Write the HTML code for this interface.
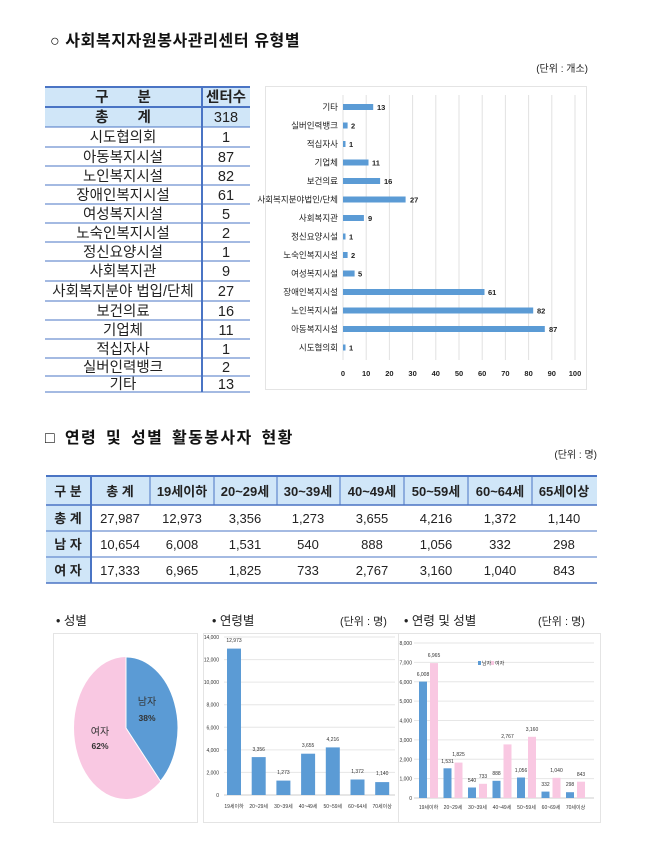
<!DOCTYPE html>
<html><head><meta charset="utf-8"><style>
body{margin:0;background:#fff;}
svg{display:block;font-family:"Liberation Sans","Noto Sans CJK KR",sans-serif;}
</style></head><body>
<svg width="670" height="864" viewBox="0 0 670 864" xmlns="http://www.w3.org/2000/svg">
<text x="50" y="46" font-size="16" font-weight="bold" fill="#111" letter-spacing="0.6">○ 사회복지자원봉사관리센터 유형별</text>
<text x="588" y="72" font-size="10" text-anchor="end" fill="#222">(단위 : 개소)</text>

<rect x="45" y="87" width="205" height="40" fill="#d0e6f8"/>
<g stroke="#4a74c4" stroke-width="1">
<line x1="45" y1="87" x2="250" y2="87" stroke-width="2"/>
<line x1="45" y1="107" x2="250" y2="107" stroke-width="2"/>
<line x1="45" y1="127" x2="250" y2="127"/><line x1="45" y1="147" x2="250" y2="147"/>
<line x1="45" y1="166" x2="250" y2="166"/><line x1="45" y1="185" x2="250" y2="185"/>
<line x1="45" y1="204" x2="250" y2="204"/><line x1="45" y1="223" x2="250" y2="223"/>
<line x1="45" y1="242" x2="250" y2="242"/><line x1="45" y1="261" x2="250" y2="261"/>
<line x1="45" y1="281" x2="250" y2="281"/><line x1="45" y1="301" x2="250" y2="301"/>
<line x1="45" y1="320" x2="250" y2="320"/><line x1="45" y1="339" x2="250" y2="339"/>
<line x1="45" y1="358" x2="250" y2="358"/><line x1="45" y1="376" x2="250" y2="376"/>
<line x1="45" y1="392" x2="250" y2="392"/>
<line x1="202" y1="87" x2="202" y2="392" stroke-width="2"/>
</g>
<g font-size="14.5" text-anchor="middle" fill="#222">
<text x="123" y="102" font-weight="bold">구　　분</text><text x="226" y="102" font-weight="bold">센터수</text>
<text x="123" y="122" font-weight="bold">총　　계</text><text x="226" y="122">318</text>
<text x="123" y="142">시도협의회</text><text x="226" y="142">1</text>
<text x="123" y="162">아동복지시설</text><text x="226" y="162">87</text>
<text x="123" y="181">노인복지시설</text><text x="226" y="181">82</text>
<text x="123" y="200">장애인복지시설</text><text x="226" y="200">61</text>
<text x="123" y="219">여성복지시설</text><text x="226" y="219">5</text>
<text x="123" y="238">노숙인복지시설</text><text x="226" y="238">2</text>
<text x="123" y="257">정신요양시설</text><text x="226" y="257">1</text>
<text x="123" y="276">사회복지관</text><text x="226" y="276">9</text>
<text x="123" y="296">사회복지분야 법입/단체</text><text x="226" y="296">27</text>
<text x="123" y="316">보건의료</text><text x="226" y="316">16</text>
<text x="123" y="335">기업체</text><text x="226" y="335">11</text>
<text x="123" y="354">적십자사</text><text x="226" y="354">1</text>
<text x="123" y="372">실버인력뱅크</text><text x="226" y="372">2</text>
<text x="123" y="389">기타</text><text x="226" y="389">13</text>
</g>

<rect x="265.5" y="86.5" width="321" height="303" fill="#fff" stroke="#e4e4e4"/>
<g stroke="#e2e2e2">
<line x1="343" y1="95" x2="343" y2="360"/><line x1="366.2" y1="95" x2="366.2" y2="360"/>
<line x1="389.4" y1="95" x2="389.4" y2="360"/><line x1="412.6" y1="95" x2="412.6" y2="360"/>
<line x1="435.8" y1="95" x2="435.8" y2="360"/><line x1="459" y1="95" x2="459" y2="360"/>
<line x1="482.2" y1="95" x2="482.2" y2="360"/><line x1="505.4" y1="95" x2="505.4" y2="360"/>
<line x1="528.6" y1="95" x2="528.6" y2="360"/><line x1="551.8" y1="95" x2="551.8" y2="360"/>
<line x1="575" y1="95" x2="575" y2="360"/>
</g>
<g fill="#5b9bd5">
<rect x="343" y="104" width="30.2" height="6"/>
<rect x="343" y="122.5" width="4.6" height="6"/>
<rect x="343" y="141" width="2.5" height="6"/>
<rect x="343" y="159.5" width="25.5" height="6"/>
<rect x="343" y="178" width="37.1" height="6"/>
<rect x="343" y="196.5" width="62.6" height="6"/>
<rect x="343" y="215" width="20.9" height="6"/>
<rect x="343" y="233.5" width="2.5" height="6"/>
<rect x="343" y="252" width="4.6" height="6"/>
<rect x="343" y="270.5" width="11.6" height="6"/>
<rect x="343" y="289" width="141.5" height="6"/>
<rect x="343" y="307.5" width="190.2" height="6"/>
<rect x="343" y="326" width="201.8" height="6"/>
<rect x="343" y="344.5" width="2.5" height="6"/>
</g>
<g font-size="8.5" text-anchor="end" fill="#222">
<text x="338" y="110">기타</text><text x="338" y="128.5">실버인력뱅크</text>
<text x="338" y="147">적십자사</text><text x="338" y="165.5">기업체</text>
<text x="338" y="184">보건의료</text><text x="338" y="202.5">사회복지분야법인/단체</text>
<text x="338" y="221">사회복지관</text><text x="338" y="239.5">정신요양시설</text>
<text x="338" y="258">노숙인복지시설</text><text x="338" y="276.5">여성복지시설</text>
<text x="338" y="295">장애인복지시설</text><text x="338" y="313.5">노인복지시설</text>
<text x="338" y="332">아동복지시설</text><text x="338" y="350.5">시도협의회</text>
</g>
<g font-size="7.5" font-weight="bold" fill="#222">
<text x="377" y="110">13</text><text x="351" y="128.5">2</text><text x="349" y="147">1</text>
<text x="372" y="165.5">11</text><text x="384" y="184">16</text><text x="410" y="202.5">27</text>
<text x="368" y="221">9</text><text x="349" y="239.5">1</text><text x="351" y="258">2</text>
<text x="358" y="276.5">5</text><text x="488" y="295">61</text><text x="537" y="313.5">82</text>
<text x="549" y="332">87</text><text x="349" y="350.5">1</text>
</g>
<g font-size="7.5" font-weight="bold" text-anchor="middle" fill="#222">
<text x="343" y="376">0</text><text x="366.2" y="376">10</text><text x="389.4" y="376">20</text>
<text x="412.6" y="376">30</text><text x="435.8" y="376">40</text><text x="459" y="376">50</text>
<text x="482.2" y="376">60</text><text x="505.4" y="376">70</text><text x="528.6" y="376">80</text>
<text x="551.8" y="376">90</text><text x="575" y="376">100</text>
</g>

<text x="45" y="443" font-size="16" font-weight="bold" fill="#111" letter-spacing="1.4" word-spacing="3">□ 연령 및 성별 활동봉사자 현황</text>
<text x="597" y="458" font-size="10" text-anchor="end" fill="#222">(단위 : 명)</text>

<rect x="46" y="476" width="551" height="29" fill="#d0e6f8"/>
<rect x="46" y="505" width="45" height="78" fill="#d0e6f8"/>
<g stroke="#4a74c4">
<line x1="46" y1="476" x2="597" y2="476" stroke-width="2"/>
<line x1="46" y1="505" x2="597" y2="505" stroke-width="1.5"/>
<line x1="46" y1="531" x2="597" y2="531"/>
<line x1="46" y1="557" x2="597" y2="557"/>
<line x1="46" y1="583" x2="597" y2="583" stroke-width="1.5"/>
<line x1="91" y1="476" x2="91" y2="583" stroke-width="2"/>
<line x1="150" y1="476" x2="150" y2="505"/><line x1="214" y1="476" x2="214" y2="505"/>
<line x1="277" y1="476" x2="277" y2="505"/><line x1="340" y1="476" x2="340" y2="505"/>
<line x1="404" y1="476" x2="404" y2="505"/><line x1="468" y1="476" x2="468" y2="505"/>
<line x1="532" y1="476" x2="532" y2="505"/>
</g>
<g font-size="13" text-anchor="middle" fill="#222">
<text x="68" y="496" font-weight="bold">구 분</text>
<text x="120" y="496" font-weight="bold">총 계</text>
<text x="182" y="496" font-weight="bold">19세이하</text>
<text x="245" y="496" font-weight="bold">20~29세</text>
<text x="308" y="496" font-weight="bold">30~39세</text>
<text x="372" y="496" font-weight="bold">40~49세</text>
<text x="436" y="496" font-weight="bold">50~59세</text>
<text x="500" y="496" font-weight="bold">60~64세</text>
<text x="564" y="496" font-weight="bold">65세이상</text>
<text x="68" y="523" font-weight="bold">총 계</text>
<text x="120" y="523">27,987</text><text x="182" y="523">12,973</text><text x="245" y="523">3,356</text>
<text x="308" y="523">1,273</text><text x="372" y="523">3,655</text><text x="436" y="523">4,216</text>
<text x="500" y="523">1,372</text><text x="564" y="523">1,140</text>
<text x="68" y="549" font-weight="bold">남 자</text>
<text x="120" y="549">10,654</text><text x="182" y="549">6,008</text><text x="245" y="549">1,531</text>
<text x="308" y="549">540</text><text x="372" y="549">888</text><text x="436" y="549">1,056</text>
<text x="500" y="549">332</text><text x="564" y="549">298</text>
<text x="68" y="575" font-weight="bold">여 자</text>
<text x="120" y="575">17,333</text><text x="182" y="575">6,965</text><text x="245" y="575">1,825</text>
<text x="308" y="575">733</text><text x="372" y="575">2,767</text><text x="436" y="575">3,160</text>
<text x="500" y="575">1,040</text><text x="564" y="575">843</text>
</g>

<g font-size="12.5" fill="#222">
<text x="56" y="625">• 성별</text>
<text x="212" y="625">• 연령별</text>
<text x="340" y="625" font-size="11">(단위 : 명)</text>
<text x="404" y="625">• 연령 및 성별</text>
<text x="538" y="625" font-size="11">(단위 : 명)</text>
</g>

<rect x="53.5" y="633.5" width="144" height="189" fill="#fff" stroke="#e4e4e4"/>
<ellipse cx="126" cy="728" rx="52" ry="71" fill="#f9c8e2"/>
<path d="M126,728 L126,657 A52,71 0 0 1 160.5,781.1 Z" fill="#5b9bd5" stroke="#fff" stroke-width="1"/>
<text x="147" y="705" font-size="10" text-anchor="middle" fill="#333">남자</text>
<text x="147" y="721" font-size="8.5" font-weight="bold" text-anchor="middle" fill="#333">38%</text>
<text x="100" y="735" font-size="10" text-anchor="middle" fill="#333">여자</text>
<text x="100" y="749" font-size="8.5" font-weight="bold" text-anchor="middle" fill="#333">62%</text>

<rect x="203.5" y="633.5" width="196" height="189" fill="#fff" stroke="#e4e4e4"/>
<g stroke="#e6e6e6">
<line x1="224" y1="637" x2="395" y2="637"/><line x1="224" y1="659.6" x2="395" y2="659.6"/>
<line x1="224" y1="682.1" x2="395" y2="682.1"/><line x1="224" y1="704.7" x2="395" y2="704.7"/>
<line x1="224" y1="727.3" x2="395" y2="727.3"/><line x1="224" y1="749.9" x2="395" y2="749.9"/>
<line x1="224" y1="772.4" x2="395" y2="772.4"/><line x1="224" y1="795" x2="395" y2="795" stroke="#ccc"/>
</g>
<g font-size="5" text-anchor="end" fill="#333">
<text x="219" y="639">14,000</text><text x="219" y="661.6">12,000</text><text x="219" y="684.1">10,000</text>
<text x="219" y="706.7">8,000</text><text x="219" y="729.3">6,000</text><text x="219" y="751.9">4,000</text>
<text x="219" y="774.4">2,000</text><text x="219" y="797">0</text>
</g>
<g fill="#5b9bd5">
<rect x="227" y="648.6" width="14" height="146.4"/>
<rect x="251.7" y="757.1" width="14" height="37.9"/>
<rect x="276.4" y="780.6" width="14" height="14.4"/>
<rect x="301.1" y="753.7" width="14" height="41.3"/>
<rect x="325.8" y="747.4" width="14" height="47.6"/>
<rect x="350.5" y="779.5" width="14" height="15.5"/>
<rect x="375.2" y="782.1" width="14" height="12.9"/>
</g>
<g font-size="5" text-anchor="middle" fill="#333">
<text x="234" y="642">12,973</text><text x="258.7" y="751">3,356</text><text x="283.4" y="774">1,273</text>
<text x="308.1" y="747">3,655</text><text x="332.8" y="741">4,216</text><text x="357.5" y="773">1,372</text>
<text x="382.2" y="775">1,140</text>
<text x="234" y="808">19세이하</text><text x="258.7" y="808">20~29세</text><text x="283.4" y="808">30~39세</text>
<text x="308.1" y="808">40~49세</text><text x="332.8" y="808">50~59세</text><text x="357.5" y="808">60~64세</text>
<text x="382.2" y="808">70세이상</text>
</g>

<rect x="398.5" y="633.5" width="202" height="189" fill="#fff" stroke="#e4e4e4"/>
<g stroke="#e6e6e6">
<line x1="414" y1="643" x2="594" y2="643"/><line x1="414" y1="662.4" x2="594" y2="662.4"/>
<line x1="414" y1="681.8" x2="594" y2="681.8"/><line x1="414" y1="701.1" x2="594" y2="701.1"/>
<line x1="414" y1="720.5" x2="594" y2="720.5"/><line x1="414" y1="739.9" x2="594" y2="739.9"/>
<line x1="414" y1="759.3" x2="594" y2="759.3"/><line x1="414" y1="778.6" x2="594" y2="778.6"/>
<line x1="414" y1="798" x2="594" y2="798" stroke="#ccc"/>
</g>
<g font-size="5" text-anchor="end" fill="#333">
<text x="412" y="645">8,000</text><text x="412" y="664.4">7,000</text><text x="412" y="683.8">6,000</text>
<text x="412" y="703.1">5,000</text><text x="412" y="722.5">4,000</text><text x="412" y="741.9">3,000</text>
<text x="412" y="761.3">2,000</text><text x="412" y="780.6">1,000</text><text x="412" y="800">0</text>
</g>
<g fill="#5b9bd5">
<rect x="419" y="681.6" width="8" height="116.4"/>
<rect x="443.5" y="768.3" width="8" height="29.7"/>
<rect x="468" y="787.5" width="8" height="10.5"/>
<rect x="492.5" y="780.8" width="8" height="17.2"/>
<rect x="517" y="777.5" width="8" height="20.5"/>
<rect x="541.5" y="791.6" width="8" height="6.4"/>
<rect x="566" y="792.2" width="8" height="5.8"/>
</g>
<g fill="#f9c8e2">
<rect x="430" y="663.1" width="8" height="134.9"/>
<rect x="454.5" y="762.6" width="8" height="35.4"/>
<rect x="479" y="783.8" width="8" height="14.2"/>
<rect x="503.5" y="744.4" width="8" height="53.6"/>
<rect x="528" y="736.8" width="8" height="61.2"/>
<rect x="552.5" y="777.8" width="8" height="20.2"/>
<rect x="577" y="781.7" width="8" height="16.3"/>
</g>
<rect x="478" y="661" width="3" height="4" fill="#5b9bd5"/>
<text x="482" y="665" font-size="5" fill="#333">남자</text>
<rect x="491" y="661" width="3" height="4" fill="#f9c8e2"/>
<text x="495" y="665" font-size="5" fill="#333">여자</text>
<g font-size="5" text-anchor="middle" fill="#333">
<text x="423" y="676">6,008</text><text x="434" y="657">6,965</text>
<text x="447.5" y="763">1,531</text><text x="458.5" y="756">1,825</text>
<text x="472" y="782">540</text><text x="483" y="778">733</text>
<text x="496.5" y="775">888</text><text x="507.5" y="738">2,767</text>
<text x="521" y="772">1,056</text><text x="532" y="731">3,160</text>
<text x="545.5" y="786">332</text><text x="556.5" y="772">1,040</text>
<text x="570" y="786">298</text><text x="581" y="776">843</text>
<text x="428.5" y="809">19세이하</text><text x="453" y="809">20~29세</text><text x="477.5" y="809">30~39세</text>
<text x="502" y="809">40~49세</text><text x="526.5" y="809">50~59세</text><text x="551" y="809">60~69세</text>
<text x="575.5" y="809">70세이상</text>
</g>
</svg>
</body></html>
